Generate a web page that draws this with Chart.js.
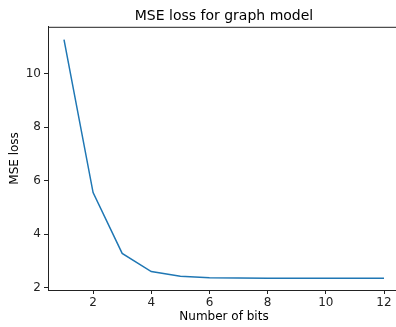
<!DOCTYPE html>
<html>
<head>
<meta charset="utf-8">
<script src="https://cdn.jsdelivr.net/npm/chart.js@4"></script>
<style>
  html, body { margin: 0; padding: 0; background: #fff; overflow: hidden; }
  #wrap { width: 400px; height: 327px; }
</style>
</head>
<body>
<div id="wrap"><canvas id="myChart" width="400" height="327"></canvas></div>
<script>
  const bits = [1, 2, 3, 4, 5, 6, 7, 8, 9, 10, 11, 12];
  const mseLoss = [11.27, 5.55, 3.28, 2.60, 2.42, 2.37, 2.355, 2.35, 2.35, 2.35, 2.35, 2.35];
  const xTicks = [2, 4, 6, 8, 10, 12];
  const yTicks = [2, 4, 6, 8, 10];

  const font = 'DejaVu Sans';

  // top spine, like matplotlib's box
  const spines = {
    id: 'spines',
    afterDraw(chart) {
      const a = chart.chartArea;
      const ctx = chart.ctx;
      ctx.save();
      ctx.strokeStyle = '#222';
      ctx.lineWidth = 1;
      ctx.beginPath();
      ctx.moveTo(a.left, a.top + 0.5);
      ctx.lineTo(a.right, a.top + 0.5);
      ctx.stroke();
      ctx.restore();
    }
  };

  const data = {
    datasets: [{
      label: 'MSE loss',
      data: bits.map((b, i) => ({ x: b, y: mseLoss[i] })),
      borderColor: '#1f77b4',
      backgroundColor: '#1f77b4',
      borderWidth: 1.5,
      pointRadius: 0,
      tension: 0,
      fill: false
    }]
  };

  const config = {
    type: 'line',
    data: data,
    options: {
      responsive: false,
      animation: false,
      layout: { padding: { left: 0, right: 0, top: 0, bottom: 0 } },
      plugins: {
        legend: { display: false },
        tooltip: { enabled: false },
        title: {
          display: true,
          text: 'MSE loss for graph model',
          fullSize: false,
          color: '#000',
          font: { family: font, size: 14, weight: 'normal' },
          padding: { top: 8, bottom: 2 }
        }
      },
      scales: {
        x: {
          type: 'linear',
          min: 0.45,
          max: 12.55,
          afterBuildTicks: s => { s.ticks = xTicks.map(v => ({ value: v })); },
          afterFit: s => { s.height = 37; s.paddingRight = 0; s.paddingLeft = 0; },
          grid: { drawOnChartArea: false, drawTicks: true, tickLength: 4, color: '#222' },
          border: { color: '#222', width: 1 },
          ticks: { color: '#222', font: { family: font, size: 12 }, padding: 2, maxRotation: 0 },
          title: {
            display: true,
            text: 'Number of bits',
            color: '#000',
            font: { family: font, size: 12 },
            padding: { top: 0, bottom: 3 }
          }
        },
        y: {
          type: 'linear',
          min: 1.91,
          max: 11.75,
          afterBuildTicks: s => { s.ticks = yTicks.map(v => ({ value: v })); },
          afterFit: s => { s.width = 48; s.paddingTop = 0; s.paddingBottom = 0; },
          grid: { drawOnChartArea: false, drawTicks: true, tickLength: 4, color: '#222' },
          border: { color: '#222', width: 1 },
          ticks: { color: '#222', font: { family: font, size: 12 }, padding: 3 },
          title: {
            display: true,
            text: 'MSE loss',
            color: '#000',
            font: { family: font, size: 12 },
            padding: { top: 8, bottom: 0 }
          }
        }
      }
    },
    plugins: [spines]
  };

  const myChart = new Chart(
    document.getElementById('myChart'),
    config
  );
</script>
</body>
</html>
